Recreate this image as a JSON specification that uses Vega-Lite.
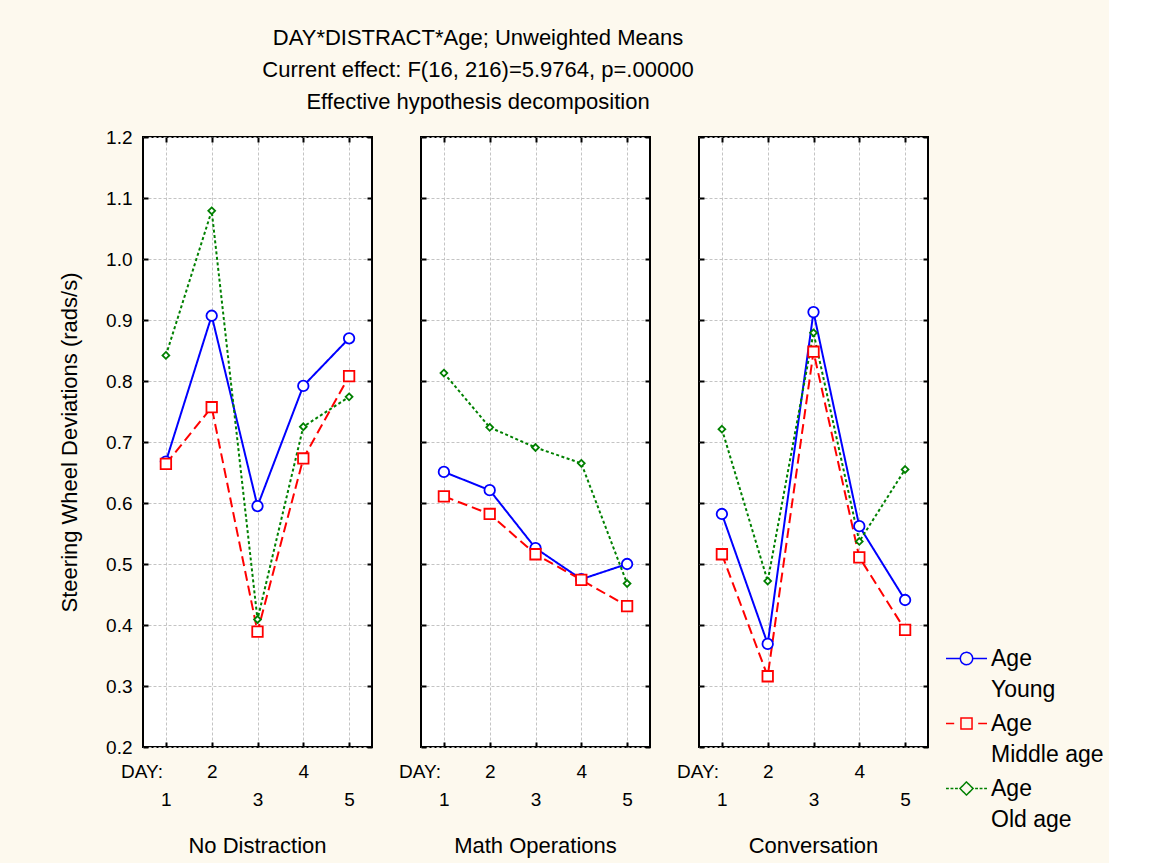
{
  "$schema": "https://vega.github.io/schema/vega-lite/v6.json",
  "background": "#FDF9EE",
  "padding": {"left": 57, "top": 27, "right": 5, "bottom": 5},
  "autosize": {"type": "pad"},
  "title": {
    "text": ["DAY*DISTRACT*Age; Unweighted Means", "Current effect: F(16, 216)=5.9764, p=.00000", "Effective hypothesis decomposition"],
    "fontSize": 22, "font": "Liberation Sans", "fontWeight": "normal", "color": "black",
    "lineHeight": 32, "anchor": "middle", "frame": "group", "offset": 13, "dx": 335
  },
  "data": {"values": [
    {"d": "No Distraction", "day": 1, "age": "Young", "v": 0.668},
    {"d": "No Distraction", "day": 2, "age": "Young", "v": 0.907},
    {"d": "No Distraction", "day": 3, "age": "Young", "v": 0.595},
    {"d": "No Distraction", "day": 4, "age": "Young", "v": 0.792},
    {"d": "No Distraction", "day": 5, "age": "Young", "v": 0.870},
    {"d": "No Distraction", "day": 1, "age": "Middle age", "v": 0.664},
    {"d": "No Distraction", "day": 2, "age": "Middle age", "v": 0.757},
    {"d": "No Distraction", "day": 3, "age": "Middle age", "v": 0.389},
    {"d": "No Distraction", "day": 4, "age": "Middle age", "v": 0.673},
    {"d": "No Distraction", "day": 5, "age": "Middle age", "v": 0.808},
    {"d": "No Distraction", "day": 1, "age": "Old age", "v": 0.842},
    {"d": "No Distraction", "day": 2, "age": "Old age", "v": 1.079},
    {"d": "No Distraction", "day": 3, "age": "Old age", "v": 0.409},
    {"d": "No Distraction", "day": 4, "age": "Old age", "v": 0.725},
    {"d": "No Distraction", "day": 5, "age": "Old age", "v": 0.774},
    {"d": "Math Operations", "day": 1, "age": "Young", "v": 0.651},
    {"d": "Math Operations", "day": 2, "age": "Young", "v": 0.621},
    {"d": "Math Operations", "day": 3, "age": "Young", "v": 0.526},
    {"d": "Math Operations", "day": 4, "age": "Young", "v": 0.475},
    {"d": "Math Operations", "day": 5, "age": "Young", "v": 0.500},
    {"d": "Math Operations", "day": 1, "age": "Middle age", "v": 0.611},
    {"d": "Math Operations", "day": 2, "age": "Middle age", "v": 0.582},
    {"d": "Math Operations", "day": 3, "age": "Middle age", "v": 0.516},
    {"d": "Math Operations", "day": 4, "age": "Middle age", "v": 0.474},
    {"d": "Math Operations", "day": 5, "age": "Middle age", "v": 0.431},
    {"d": "Math Operations", "day": 1, "age": "Old age", "v": 0.813},
    {"d": "Math Operations", "day": 2, "age": "Old age", "v": 0.724},
    {"d": "Math Operations", "day": 3, "age": "Old age", "v": 0.691},
    {"d": "Math Operations", "day": 4, "age": "Old age", "v": 0.665},
    {"d": "Math Operations", "day": 5, "age": "Old age", "v": 0.468},
    {"d": "Conversation", "day": 1, "age": "Young", "v": 0.582},
    {"d": "Conversation", "day": 2, "age": "Young", "v": 0.369},
    {"d": "Conversation", "day": 3, "age": "Young", "v": 0.913},
    {"d": "Conversation", "day": 4, "age": "Young", "v": 0.562},
    {"d": "Conversation", "day": 5, "age": "Young", "v": 0.441},
    {"d": "Conversation", "day": 1, "age": "Middle age", "v": 0.516},
    {"d": "Conversation", "day": 2, "age": "Middle age", "v": 0.316},
    {"d": "Conversation", "day": 3, "age": "Middle age", "v": 0.848},
    {"d": "Conversation", "day": 4, "age": "Middle age", "v": 0.511},
    {"d": "Conversation", "day": 5, "age": "Middle age", "v": 0.392},
    {"d": "Conversation", "day": 1, "age": "Old age", "v": 0.721},
    {"d": "Conversation", "day": 2, "age": "Old age", "v": 0.472},
    {"d": "Conversation", "day": 3, "age": "Old age", "v": 0.879},
    {"d": "Conversation", "day": 4, "age": "Old age", "v": 0.537},
    {"d": "Conversation", "day": 5, "age": "Old age", "v": 0.655}
  ]},
  "spacing": 23,
  "resolve": {"scale": {"color": "shared", "stroke": "shared", "shape": "shared", "strokeDash": "shared"}, "legend": {"color": "shared"}},
  "hconcat": [
    {
      "width": 229, "height": 610,
      "title": {"text": "No Distraction", "orient": "bottom", "offset": 27, "anchor": "middle"},
      "transform": [{"filter": "datum.d == 'No Distraction'"}],
      "layer": [
        {"mark": {"type": "line", "strokeWidth": 2},
         "encoding": {
           "x": {"field": "day", "type": "quantitative", "scale": {"domain": [0.5, 5.5], "nice": false, "zero": false},
                 "axis": {"orient": "bottom", "values": [1, 2, 3, 4, 5], "grid": true, "labelExpr": "datum.value % 2 == 0 ? [datum.label] : ['', datum.label]", "labelLineHeight": 28, "labelPadding": 20, "labelFontSize": 19, "title": "DAY:", "titleX": -1.5, "titleY": 24, "titleBaseline": "middle", "titleAlign": "center", "titleFontSize": 19}},
           "y": {"field": "v", "type": "quantitative", "scale": {"domain": [0.2, 1.2], "nice": false, "zero": false},
                 "axis": {"orient": "left", "values": [0.2, 0.3, 0.4, 0.5, 0.6, 0.7, 0.8, 0.9, 1.0, 1.1, 1.2], "format": ".1f", "grid": true, "labelPadding": 16, "labelFontSize": 19, "title": "Steering Wheel Deviations (rads/s)", "titleFontSize": 22, "titlePadding": 24}},
           "color": {"field": "age", "type": "nominal", "scale": {"domain": ["Young", "Middle age", "Old age"], "range": ["#0000FF", "#FF0000", "#008000"]},
                     "legend": {"title": null, "orient": "none", "legendX": 802, "legendY": 500, "symbolSize": 1681, "symbolStrokeWidth": 1.5, "labelFontSize": 23, "labelFont": "Liberation Sans", "labelColor": "black", "labelOffset": 3, "labelLimit": 0, "rowPadding": -8, "labelBaseline": "middle",
                                "labelExpr": "['Age', datum.label]",
                                "encode": {"symbols": {"update": {"shape": {"signal": "datum.value === 'Young' ? 'M-1,0H-0.3M0.3,0H1M0.3,0A0.3,0.3,0,1,1,-0.3,0A0.3,0.3,0,1,1,0.3,0' : datum.value === 'Middle age' ? 'M-1,0H-0.6M0.57,0H1M-0.27,-0.27H0.27V0.27H-0.27Z' : 'M-1,0H-0.86M-0.78,0H-0.64M-0.56,0H-0.42M0.42,0H0.56M0.64,0H0.78M0.86,0H1M-0.32,0L0,-0.32L0.32,0L0,0.32Z'"}, "fill": {"value": "transparent"}, "strokeDash": {"value": [1, 0]}}},
                                           "labels": {"update": {"lineHeight": {"value": 31}}}}}},
           "strokeDash": {"field": "age", "type": "nominal", "scale": {"range": [[10, 5], [3, 2.5], [1, 0]]}, "legend": null}
         }},
        {"mark": {"type": "point", "filled": true, "fill": "white", "opacity": 1, "size": 110, "strokeWidth": 1.8},
         "encoding": {
           "x": {"field": "day", "type": "quantitative", "axis": {"orient": "top", "values": [1, 2, 3, 4, 5], "labels": false, "grid": false, "title": null}},
           "y": {"field": "v", "type": "quantitative", "axis": {"orient": "right", "values": [0.2, 0.3, 0.4, 0.5, 0.6, 0.7, 0.8, 0.9, 1.0, 1.1, 1.2], "labels": false, "grid": false, "title": null}},
           "stroke": {"field": "age", "type": "nominal", "scale": {"range": ["#FF0000", "#008000", "#0000FF"]}, "legend": null},
           "shape": {"field": "age", "type": "nominal", "scale": {"range": ["square", "M0,-0.65L0.65,0L0,0.65L-0.65,0Z", "circle"]}, "legend": null}
         }}
      ],
      "resolve": {"axis": {"x": "independent", "y": "independent"}}
    },
    {
      "width": 229, "height": 610,
      "title": {"text": "Math Operations", "orient": "bottom", "offset": 27, "anchor": "middle"},
      "transform": [{"filter": "datum.d == 'Math Operations'"}],
      "layer": [
        {"mark": {"type": "line", "strokeWidth": 2},
         "encoding": {
           "x": {"field": "day", "type": "quantitative", "scale": {"domain": [0.5, 5.5], "nice": false, "zero": false},
                 "axis": {"orient": "bottom", "values": [1, 2, 3, 4, 5], "grid": true, "labelExpr": "datum.value % 2 == 0 ? [datum.label] : ['', datum.label]", "labelLineHeight": 28, "labelPadding": 20, "labelFontSize": 19, "title": "DAY:", "titleX": -1.5, "titleY": 24, "titleBaseline": "middle", "titleAlign": "center", "titleFontSize": 19}},
           "y": {"field": "v", "type": "quantitative", "scale": {"domain": [0.2, 1.2], "nice": false, "zero": false},
                 "axis": {"orient": "left", "values": [0.2, 0.3, 0.4, 0.5, 0.6, 0.7, 0.8, 0.9, 1.0, 1.1, 1.2], "grid": true, "labels": false, "title": null}},
           "color": {"field": "age", "type": "nominal", "scale": {"domain": ["Young", "Middle age", "Old age"], "range": ["#0000FF", "#FF0000", "#008000"]},
                     "legend": {"title": null, "orient": "none", "legendX": 802, "legendY": 500, "symbolSize": 1681, "symbolStrokeWidth": 1.5, "labelFontSize": 23, "labelFont": "Liberation Sans", "labelColor": "black", "labelOffset": 3, "labelLimit": 0, "rowPadding": -8, "labelBaseline": "middle",
                                "labelExpr": "['Age', datum.label]",
                                "encode": {"symbols": {"update": {"shape": {"signal": "datum.value === 'Young' ? 'M-1,0H-0.3M0.3,0H1M0.3,0A0.3,0.3,0,1,1,-0.3,0A0.3,0.3,0,1,1,0.3,0' : datum.value === 'Middle age' ? 'M-1,0H-0.6M0.57,0H1M-0.27,-0.27H0.27V0.27H-0.27Z' : 'M-1,0H-0.86M-0.78,0H-0.64M-0.56,0H-0.42M0.42,0H0.56M0.64,0H0.78M0.86,0H1M-0.32,0L0,-0.32L0.32,0L0,0.32Z'"}, "fill": {"value": "transparent"}, "strokeDash": {"value": [1, 0]}}},
                                           "labels": {"update": {"lineHeight": {"value": 31}}}}}},
           "strokeDash": {"field": "age", "type": "nominal", "scale": {"range": [[10, 5], [3, 2.5], [1, 0]]}, "legend": null}
         }},
        {"mark": {"type": "point", "filled": true, "fill": "white", "opacity": 1, "size": 110, "strokeWidth": 1.8},
         "encoding": {
           "x": {"field": "day", "type": "quantitative", "axis": {"orient": "top", "values": [1, 2, 3, 4, 5], "labels": false, "grid": false, "title": null}},
           "y": {"field": "v", "type": "quantitative", "axis": {"orient": "right", "values": [0.2, 0.3, 0.4, 0.5, 0.6, 0.7, 0.8, 0.9, 1.0, 1.1, 1.2], "labels": false, "grid": false, "title": null}},
           "stroke": {"field": "age", "type": "nominal", "scale": {"range": ["#FF0000", "#008000", "#0000FF"]}, "legend": null},
           "shape": {"field": "age", "type": "nominal", "scale": {"range": ["square", "M0,-0.65L0.65,0L0,0.65L-0.65,0Z", "circle"]}, "legend": null}
         }}
      ],
      "resolve": {"axis": {"x": "independent", "y": "independent"}}
    },
    {
      "width": 229, "height": 610,
      "title": {"text": "Conversation", "orient": "bottom", "offset": 27, "anchor": "middle"},
      "transform": [{"filter": "datum.d == 'Conversation'"}],
      "layer": [
        {"mark": {"type": "line", "strokeWidth": 2},
         "encoding": {
           "x": {"field": "day", "type": "quantitative", "scale": {"domain": [0.5, 5.5], "nice": false, "zero": false},
                 "axis": {"orient": "bottom", "values": [1, 2, 3, 4, 5], "grid": true, "labelExpr": "datum.value % 2 == 0 ? [datum.label] : ['', datum.label]", "labelLineHeight": 28, "labelPadding": 20, "labelFontSize": 19, "title": "DAY:", "titleX": -1.5, "titleY": 24, "titleBaseline": "middle", "titleAlign": "center", "titleFontSize": 19}},
           "y": {"field": "v", "type": "quantitative", "scale": {"domain": [0.2, 1.2], "nice": false, "zero": false},
                 "axis": {"orient": "left", "values": [0.2, 0.3, 0.4, 0.5, 0.6, 0.7, 0.8, 0.9, 1.0, 1.1, 1.2], "grid": true, "labels": false, "title": null}},
           "color": {"field": "age", "type": "nominal", "scale": {"domain": ["Young", "Middle age", "Old age"], "range": ["#0000FF", "#FF0000", "#008000"]},
                     "legend": {"title": null, "orient": "none", "legendX": 802, "legendY": 500, "symbolSize": 1681, "symbolStrokeWidth": 1.5, "labelFontSize": 23, "labelFont": "Liberation Sans", "labelColor": "black", "labelOffset": 3, "labelLimit": 0, "rowPadding": -8, "labelBaseline": "middle",
                                "labelExpr": "['Age', datum.label]",
                                "encode": {"symbols": {"update": {"shape": {"signal": "datum.value === 'Young' ? 'M-1,0H-0.3M0.3,0H1M0.3,0A0.3,0.3,0,1,1,-0.3,0A0.3,0.3,0,1,1,0.3,0' : datum.value === 'Middle age' ? 'M-1,0H-0.6M0.57,0H1M-0.27,-0.27H0.27V0.27H-0.27Z' : 'M-1,0H-0.86M-0.78,0H-0.64M-0.56,0H-0.42M0.42,0H0.56M0.64,0H0.78M0.86,0H1M-0.32,0L0,-0.32L0.32,0L0,0.32Z'"}, "fill": {"value": "transparent"}, "strokeDash": {"value": [1, 0]}}},
                                           "labels": {"update": {"lineHeight": {"value": 31}}}}}},
           "strokeDash": {"field": "age", "type": "nominal", "scale": {"range": [[10, 5], [3, 2.5], [1, 0]]}, "legend": null}
         }},
        {"mark": {"type": "point", "filled": true, "fill": "white", "opacity": 1, "size": 110, "strokeWidth": 1.8},
         "encoding": {
           "x": {"field": "day", "type": "quantitative", "axis": {"orient": "top", "values": [1, 2, 3, 4, 5], "labels": false, "grid": false, "title": null}},
           "y": {"field": "v", "type": "quantitative", "axis": {"orient": "right", "values": [0.2, 0.3, 0.4, 0.5, 0.6, 0.7, 0.8, 0.9, 1.0, 1.1, 1.2], "labels": false, "grid": false, "title": null}},
           "stroke": {"field": "age", "type": "nominal", "scale": {"range": ["#FF0000", "#008000", "#0000FF"]}, "legend": null},
           "shape": {"field": "age", "type": "nominal", "scale": {"range": ["square", "M0,-0.65L0.65,0L0,0.65L-0.65,0Z", "circle"]}, "legend": null}
         }}
      ],
      "resolve": {"axis": {"x": "independent", "y": "independent"}}
    }
  ],
  "config": {
    "font": "Liberation Sans",
    "view": {"stroke": "black", "strokeWidth": 2, "fill": "white"},
    "axis": {"domain": false, "gridColor": "#c4c4c4", "gridDash": [3, 2], "gridWidth": 1, "tickColor": "black", "tickWidth": 2, "tickSize": -5, "labelColor": "black", "labelFont": "Liberation Sans", "titleFont": "Liberation Sans", "titleFontWeight": "normal", "titleColor": "black"},
    "title": {"font": "Liberation Sans", "fontSize": 22, "fontWeight": "normal", "color": "black"}
  }
}
